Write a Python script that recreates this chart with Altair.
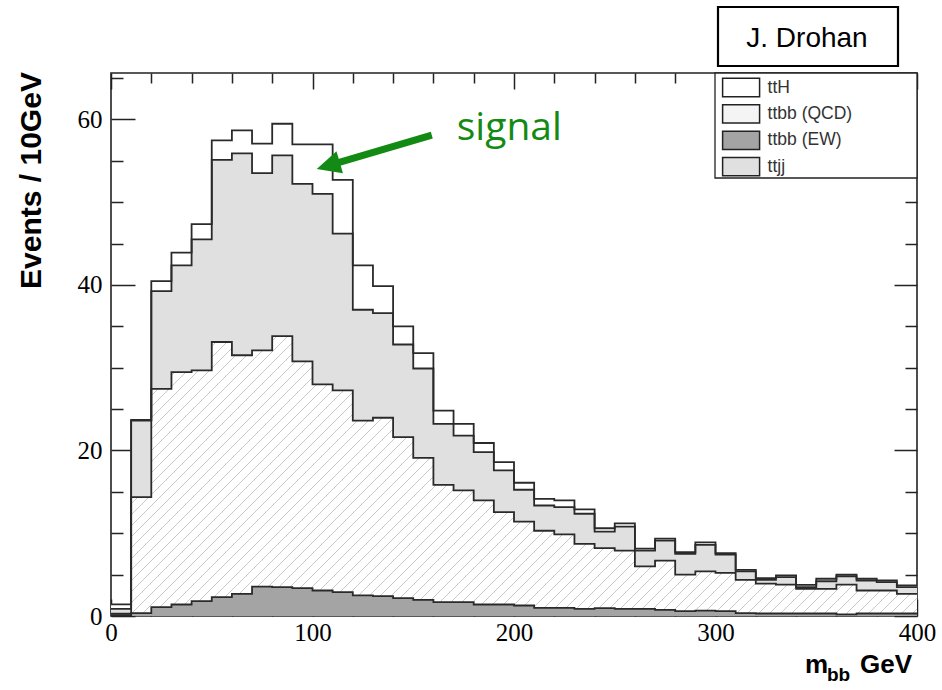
import altair as alt
import pandas as pd

# ---------------- data ----------------
bin_low = list(range(0, 400, 10))          # 10 GeV bins, 0..400
x_max = 400
ttbb_ew = [0.10, 0.35, 1.07, 1.39, 1.79, 2.27, 2.68, 3.56, 3.48, 3.36,
           3.08, 2.88, 2.48, 2.40, 2.15, 1.95, 1.67, 1.67, 1.39, 1.39,
           1.27, 0.99, 0.99, 0.87, 0.95, 0.87, 0.87, 0.75, 0.58, 0.65,
           0.58, 0.34, 0.30, 0.30, 0.30, 0.30, 0.20, 0.30, 0.30, 0.30]
ttbb_qcd = [0.17, 14.00, 26.38, 28.08, 27.88, 30.83, 28.82, 28.54, 30.32, 27.40,
            24.90, 24.37, 21.12, 21.55, 19.45, 17.15, 14.18, 13.50, 12.57, 11.16,
            10.13, 9.31, 8.86, 7.85, 7.25, 7.03, 5.13, 5.95, 4.42, 4.73,
            4.62, 4.03, 3.60, 3.50, 2.98, 2.98, 3.60, 2.78, 2.78, 2.38]
ttjj = [0.60, 9.25, 11.80, 12.89, 15.83, 22.00, 24.40, 21.40, 21.85, 21.44,
        23.02, 18.95, 13.40, 12.65, 11.20, 10.80, 7.35, 6.63, 5.84, 5.05,
        3.85, 3.05, 3.30, 3.63, 2.00, 2.90, 1.90, 2.40, 2.50, 3.22,
        2.23, 1.03, 0.47, 0.90, 0.20, 0.92, 1.00, 1.21, 1.02, 0.80]
tth = [0.53, 0.10, 1.21, 1.54, 1.85, 2.36, 2.77, 3.56, 3.82, 4.78,
       5.98, 6.50, 5.36, 3.26, 2.20, 1.86, 1.60, 1.40, 1.10, 1.00,
       0.85, 0.81, 0.81, 0.52, 0.40, 0.40, 0.25, 0.25, 0.20, 0.30,
       0.17, 0.18, 0.20, 0.20, 0.29, 0.30, 0.20, 0.21, 0.19, 0.21]

stack_order = ["ttbb (EW)", "ttbb (QCD)", "ttjj", "ttH"]     # bottom -> top
stack_vals = [ttbb_ew, ttbb_qcd, ttjj, tth]
legend_order = ["ttH", "ttbb (QCD)", "ttbb (EW)", "ttjj"]
legend_fill = ["#ffffff", "#f4f4f4", "#a4a4a4", "#e0e0e0"]

y_max = 65.6
W, H = 806, 543

rows = []
lower = [0.0] * len(bin_low)
for name, vals in zip(stack_order, stack_vals):
    upper = [a + b for a, b in zip(lower, vals)]
    xs = bin_low + [x_max]
    for i, xv in enumerate(xs):
        j = min(i, len(bin_low) - 1)
        rows.append({"x": xv, "comp": name, "lo": lower[j], "hi": upper[j]})
    lower = upper
df = pd.DataFrame(rows)

# ---------------- scales & axes ----------------
xsc = alt.Scale(domain=[0, x_max], nice=False, zero=False)
ysc = alt.Scale(domain=[0, y_max], nice=False, zero=False)
tick_col = "#222222"

x_label_axis = alt.Axis(orient="bottom", values=[0, 100, 200, 300, 400], ticks=False, tickSize=0,
                        domain=False, grid=False, labelFont="Liberation Serif", labelFontSize=25,
                        labelColor="black", labelPadding=4, labelFlush=False, labelOverlap=False,
                        title=None, format="d")
y_label_axis = alt.Axis(orient="left", values=[0, 20, 40, 60], ticks=False, tickSize=0,
                        domain=False, grid=False, labelFont="Liberation Serif", labelFontSize=25,
                        labelColor="black", labelPadding=9, labelOverlap=False, format="d",
                        title="Events / 10GeV", titleFont="Liberation Sans", titleFontSize=30,
                        titleFontWeight="bold", titleColor="black", titleX=-80, titleY=107,
                        titleAngle=270, titleAlign="center", titleBaseline="middle")

x_minor = list(range(0, 401, 20))
y_minor = list(range(0, 66, 5))

def tick_axis(orient, offset, values, test, major, minor):
    return alt.Axis(orient=orient, offset=offset, values=values, labels=False, domain=False,
                    grid=False, title=None, tickColor=tick_col, tickWidth=1.5,
                    tickSize={"condition": {"test": test, "value": major}, "value": minor})

x_bottom_ticks = tick_axis("top", -H, x_minor, "datum.value % 100 === 0", 17, 8)
x_top_ticks = tick_axis("bottom", -H, x_minor, "datum.value % 100 === 0", 16, 10)
y_left_ticks = tick_axis("right", -W, y_minor, "datum.value % 20 === 0", 24, 12)
y_right_ticks = tick_axis("left", -W, y_minor, "datum.value % 20 === 0", 23, 12)

# ---------------- stacked histogram ----------------
legend = alt.Legend(title=None, orient="none", legendX=617.6, legendY=2, direction="vertical",
                    padding=0,
                    symbolType="M-1.6,-0.79H1.6V0.79H-1.6Z", symbolSize=534, symbolOffset=0,
                    symbolStrokeColor="#222222", symbolStrokeWidth=1.5, symbolOpacity=1,
                    labelFont="Liberation Sans", labelFontSize=17.5, labelColor="#333333",
                    labelOffset=14, rowPadding=1.4, labelLimit=0)

bands = alt.Chart(df).mark_area(interpolate="step-after", opacity=1).encode(
    x=alt.X("x:Q", scale=xsc, axis=x_label_axis),
    y=alt.Y("hi:Q", scale=ysc, axis=y_label_axis, stack=None),
    y2="lo:Q",
    fill=alt.Fill("comp:N", scale=alt.Scale(domain=legend_order, range=legend_fill), legend=legend),
)

# diagonal hatch for ttbb (QCD) as a striped linear gradient (covers the whole band bbox)
qcd_top = [a + b for a, b in zip(ttbb_ew, ttbb_qcd)]
bb_w = W
bb_h = (max(qcd_top) - min(ttbb_ew)) / y_max * H
gy = bb_h / bb_w
reach = (1 + gy) / (1 + gy * gy)
per_px = 1.0 / (bb_w * reach * (1 + gy * gy))
period = 11.0 * per_px
lw = 1.7 * per_px
stops = []
k = 0
while k * period < 1.0:
    s = k * period
    e = min(s + lw, 1.0)
    stops += [{"offset": s, "color": "#ffffff"}, {"offset": s, "color": "#c9c9c9"},
              {"offset": e, "color": "#c9c9c9"}, {"offset": e, "color": "#ffffff"}]
    k += 1
stops.append({"offset": 1.0, "color": "#ffffff"})
hatch_fill = {"gradient": "linear", "x1": 0, "y1": 0, "x2": reach, "y2": reach * gy, "stops": stops}

hatch = alt.Chart(df).transform_filter(alt.datum.comp == "ttbb (QCD)").mark_area(
    interpolate="step-after", fill=hatch_fill, opacity=1).encode(
    x=alt.X("x:Q", scale=xsc, axis=x_bottom_ticks),
    y=alt.Y("hi:Q", scale=ysc, axis=y_left_ticks, stack=None),
    y2="lo:Q",
)

outlines = alt.Chart(df).mark_line(interpolate="step-after", color="#2a2a2a", strokeWidth=1.8).encode(
    x=alt.X("x:Q", scale=xsc, axis=x_top_ticks),
    y=alt.Y("hi:Q", scale=ysc, axis=y_right_ticks),
    detail="comp:N",
)

# legend frame (the legend entries themselves come from the fill scale above)
legend_box = alt.Chart(pd.DataFrame({"t": ["legend"]})).mark_rect(
    fill="white", stroke="#222222", strokeWidth=1.3).encode(
    x=alt.value(604), x2=alt.value(W), y=alt.value(0), y2=alt.value(105))

# ---------------- annotations ----------------
green = "#138a13"
arrow = pd.DataFrame({"x": [159.2], "y": [58.1], "x2": [107.8], "y2": [54.4]})
arrow_line = alt.Chart(arrow).mark_rule(color=green, strokeWidth=7).encode(
    x=alt.X("x:Q", scale=xsc, axis=None), y=alt.Y("y:Q", scale=ysc, axis=None),
    x2="x2:Q", y2="y2:Q")
arrow_head = alt.Chart(arrow).mark_point(shape="M0,-1L0.95,1L-0.95,1Z", filled=True, size=576,
                                          angle=253.5, color=green, opacity=1).encode(
    x=alt.X("x2:Q", scale=xsc, axis=None), y=alt.Y("y2:Q", scale=ysc, axis=None))
signal = alt.Chart(pd.DataFrame({"x": [171.6], "y": [57.5], "t": ["signal"]})).mark_text(
    align="left", baseline="alphabetic", font="Open Sans", fontSize=39, color=green).encode(
    x=alt.X("x:Q", scale=xsc, axis=None), y=alt.Y("y:Q", scale=ysc, axis=None), text="t:N")

author = pd.DataFrame({"t": ["J. Drohan"]})
box = alt.Chart(author).mark_rect(fill="white", stroke="black", strokeWidth=2.2).encode(
    x=alt.value(607), x2=alt.value(787), y=alt.value(-66), y2=alt.value(-7))
box_text = alt.Chart(author).mark_text(align="center", baseline="alphabetic", font="Liberation Sans",
                                       fontSize=28, color="black").encode(
    x=alt.value(696), y=alt.value(-26), text="t:N")

xt_m = alt.Chart(pd.DataFrame({"t": ["m"]})).mark_text(
    align="left", baseline="alphabetic", font="Liberation Sans", fontWeight="bold",
    fontSize=26, color="black").encode(x=alt.value(694), y=alt.value(600), text="t:N")
xt_bb = alt.Chart(pd.DataFrame({"t": ["bb"]})).mark_text(
    align="left", baseline="alphabetic", font="Liberation Sans", fontWeight="bold",
    fontSize=19, color="black").encode(x=alt.value(716), y=alt.value(608), text="t:N")
xt_gev = alt.Chart(pd.DataFrame({"t": ["GeV"]})).mark_text(
    align="left", baseline="alphabetic", font="Liberation Sans", fontWeight="bold",
    fontSize=26, color="black").encode(x=alt.value(749), y=alt.value(600), text="t:N")

chart = alt.layer(
    bands, hatch, outlines, legend_box, arrow_line, arrow_head, signal, box, box_text,
    xt_m, xt_bb, xt_gev
).resolve_axis(x="independent", y="independent").properties(
    width=W, height=H,
    autosize=alt.AutoSizeParams(type="none"),
    padding={"left": 111, "top": 73, "right": 25, "bottom": 74},
    background="white",
).configure_view(stroke="#222222", strokeWidth=1.6).configure_axis(grid=False)

chart.save("out.html", embed_options={"renderer": "svg", "actions": False})
